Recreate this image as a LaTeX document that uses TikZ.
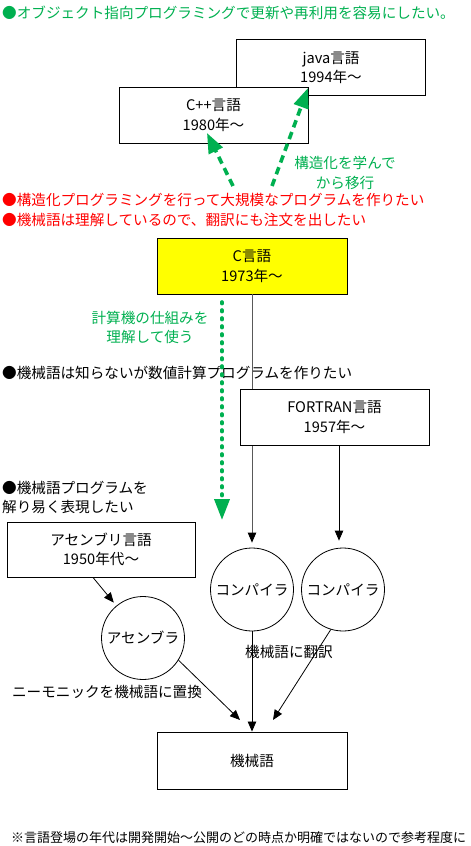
\documentclass[tikz,border=0pt]{standalone}
\usepackage{fontspec}
\setmainfont{Noto Sans CJK JP}
\usetikzlibrary{arrows.meta}
\definecolor{xlgreen}{HTML}{00B050}
\definecolor{xlred}{HTML}{FF0000}
\definecolor{xlyellow}{HTML}{FFFF00}
\begin{document}
\begin{tikzpicture}[x=1pt,y=-1pt,
  txt/.style={font=\fontsize{14.6}{19.5}\selectfont, inner sep=0pt},
  box/.style={txt, draw, line width=0.9pt, fill=white, minimum width=189pt, minimum height=56pt, align=center},
  circ/.style={txt, draw, circle, line width=0.8pt, fill=white, minimum size=83pt},
  note/.style={txt, anchor=west},
  lbl/.style={txt, align=center},
  flow/.style={-{Triangle[length=10pt,width=8.5pt,color=black]}, line width=0.8pt},
  garrow/.style={draw=xlgreen, line width=3.6pt, dash pattern=on 7.5pt off 5pt, -{Triangle[length=20pt,width=15pt,fill=xlgreen]}},
  gdots/.style={draw=xlgreen, line width=3.6pt, line cap=round, dash pattern=on 1.6pt off 6.4pt, -{Triangle[length=21pt,width=15pt,fill=xlgreen]}}
]
\useasboundingbox (0,0) rectangle (471,846);

% texts
\node[note, text=xlgreen] (t1) at (2,13) {●オブジェクト指向プログラミングで更新や再利用を容易にしたい。};
\node[note, text=xlred] (t2) at (2,200) {●構造化プログラミングを行って大規模なプログラムを作りたい};
\node[note, text=xlred] (t3) at (2,220) {●機械語は理解しているので、翻訳にも注文を出したい};
\node[note] (t4) at (2,373) {●機械語は知らないが数値計算プログラムを作りたい};
\node[note, align=left] (t5) at (2,497.5) {●機械語プログラムを\\解り易く表現したい};

% boxes
\node[box] (java) at (331,67.5) {java言語\\1994年〜};
\node[box] (cpp) at (213.5,115) {C++言語\\1980年〜};
\node[box, fill=xlyellow, minimum width=190pt] (c) at (252,266) {C言語\\1973年〜};

% C -> compiler (behind FORTRAN box)
\node[circ] (comp1) at (252,589.5) {コンパイラ};
\node[circ] (comp2) at (343,589.5) {コンパイラ};
\draw[flow, draw=black!65, shorten >=5pt] (c.south) -- (comp1.north);

\node[box] (fort) at (334.5,417) {FORTRAN言語\\1957年〜};
\node[box, minimum width=188pt, minimum height=55pt] (asmb) at (101,549.5) {アセンブリ言語\\1950年代〜};
\node[circ] (asmc) at (143,638) {アセンブラ};
\node[box, minimum width=190pt, minimum height=57pt] (mach) at (252,760.5) {機械語};

% green arrows
\coordinate (g1s) at (233,186);
\coordinate (g1e) at (207,133);
\coordinate (g2s) at (272,186);
\coordinate (g2e) at (308,88);
\coordinate (g3s) at (222,302);
\coordinate (g3e) at (222,520);
\draw[garrow] (g1s) -- (g1e);
\draw[garrow] (g2s) -- (g2e);
\draw[gdots] (g3s) -- (g3e);

\node[lbl, text=xlgreen] (l1) at (345,173) {構造化を学んで\\から移行};
\node[lbl, text=xlgreen] (l2) at (150,327.5) {計算機の仕組みを\\理解して使う};

% black arrows
\coordinate (m1) at (240,720);
\coordinate (m3) at (273,720);
\draw[flow, shorten >=7pt] ([xshift=4.5pt]fort.south) -- ([xshift=-4pt]comp2.north);
\draw[flow, shorten >=4pt] ([xshift=-8pt]asmb.south) -- (asmc);
\draw[flow] (asmc.-32) -- (m1);
\draw[flow] (comp1.south) -- (mach.north);
\draw[flow] (comp2.253) -- (m3);

\node[lbl] (l3) at (289,652) {機械語に翻訳};
\node[lbl] (l4) at (107,692) {ニーモニックを機械語に置換};

\node[txt, anchor=west, font=\fontsize{13}{16}\selectfont] (foot) at (11,838) {※言語登場の年代は開発開始〜公開のどの時点か明確ではないので参考程度に};
\end{tikzpicture}
\end{document}
